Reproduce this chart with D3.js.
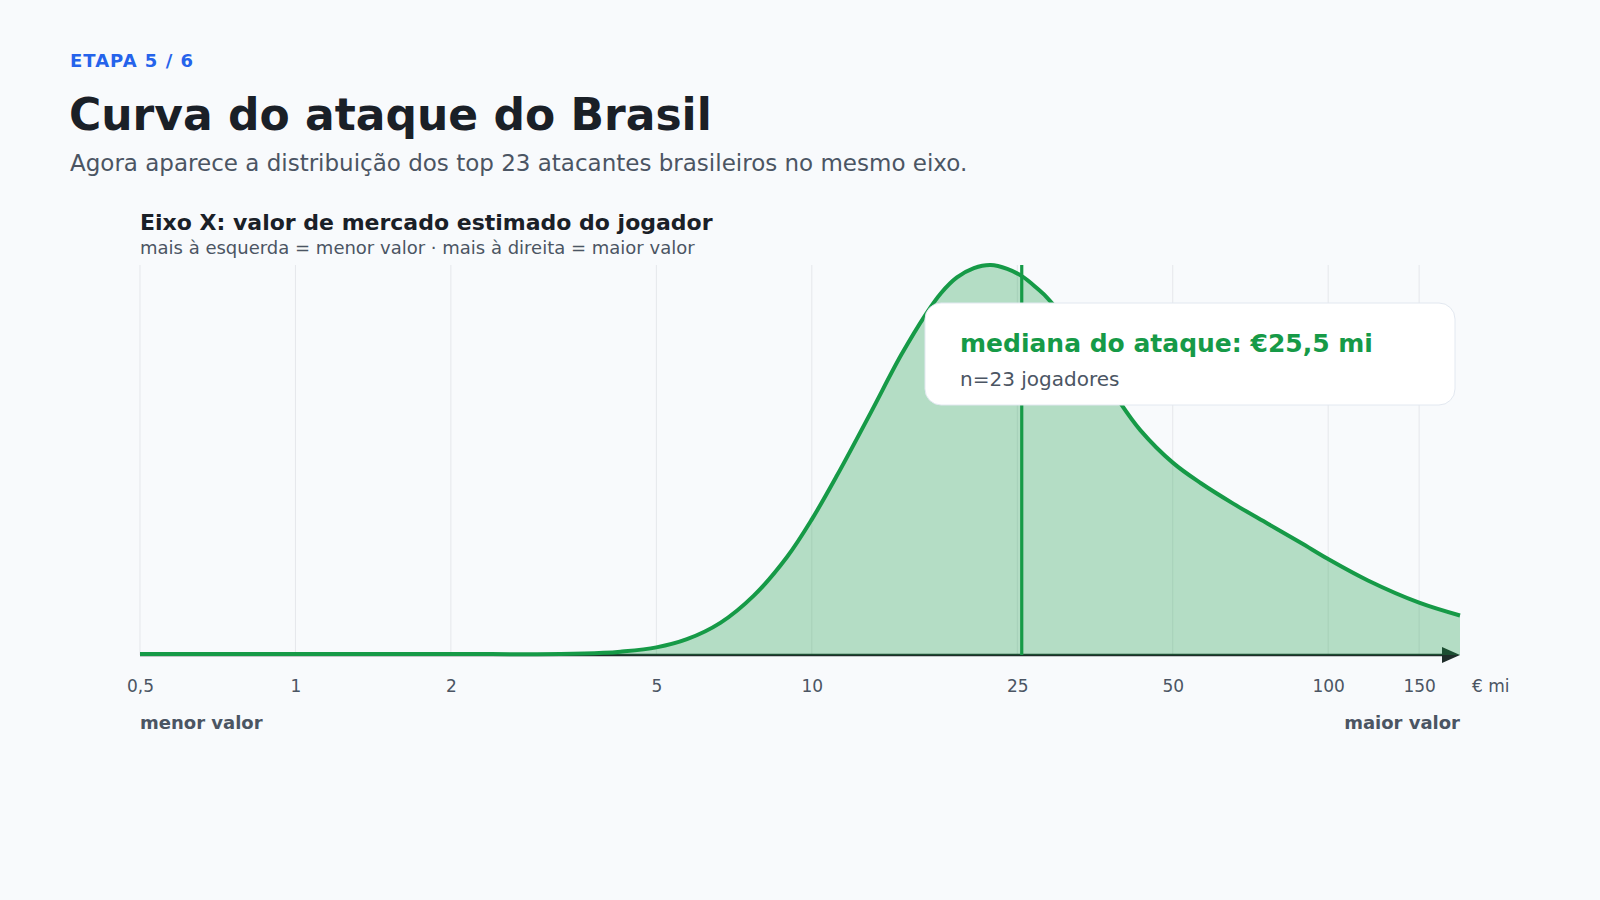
<!DOCTYPE html>
<meta charset="utf-8">
<style>
body { margin: 0; background: #f8fafc; }
svg { display: block; }
text { font-family: "DejaVu Sans", sans-serif; }
.grid line { stroke: #e5e7eb; stroke-width: 1; }
.eixo text { fill: #4b5563; }
</style>
<svg></svg>
<script src="https://d3js.org/d3.v7.min.js"></script>
<script>

// valores em € mi (eixo log) e densidade relativa
var valores   = [0.5, 1, 2, 3.26, 3.95, 4.26, 5, 5.73, 6.65, 7.72, 8.96, 10, 11.2, 13.0, 14.9, 16.6, 17.8, 19.1, 20.6, 22.2, 23.9, 25.6, 27.3, 28.6, 33.9, 39.6, 43.3, 50, 56.7, 65.6, 76.4, 88.5, 100, 119.4, 150, 180];
var densidade = [0, 0, 0, 0, 0.003, 0.006, 0.017, 0.038, 0.08, 0.15, 0.25, 0.346, 0.46, 0.62, 0.769, 0.872, 0.928, 0.968, 0.992, 1.0, 0.99, 0.97, 0.94, 0.915, 0.792, 0.645, 0.575, 0.492, 0.439, 0.386, 0.335, 0.286, 0.244, 0.189, 0.132, 0.099];

var ticks = [0.5, 1, 2, 5, 10, 25, 50, 100, 150];
var tickLabels = ["0,5", "1", "2", "5", "10", "25", "50", "100", "150"];

var mediana = 25.5;
var nJogadores = 23;

var verde = "#169a47";

var svg = d3.select("svg")
  .attr("width", 1600)
  .attr("height", 900);

var x = d3.scaleLog().domain([0.5, 180]).range([140, 1460]);
var y = d3.scaleLinear().domain([0, 1]).range([654, 265]);

var pontos = valores.map(function(v, i) { return { v: v, d: densidade[i] }; });

/*CABECALHO*/
svg.append("text")
  .attr("x", 70).attr("y", 67)
  .style("font-size", "18px").style("font-weight", "bold")
  .style("letter-spacing", "1px")
  .style("fill", "#2563eb")
  .text("ETAPA 5 / 6");

svg.append("text")
  .attr("x", 69).attr("y", 130)
  .style("font-size", "44px").style("font-weight", "bold")
  .style("fill", "#1a2027")
  .text("Curva do ataque do Brasil");

svg.append("text")
  .attr("x", 70).attr("y", 171)
  .style("font-size", "23px")
  .style("fill", "#4b5563")
  .text("Agora aparece a distribuição dos top 23 atacantes brasileiros no mesmo eixo.");

svg.append("text")
  .attr("x", 140).attr("y", 230)
  .style("font-size", "22px").style("font-weight", "bold")
  .style("fill", "#1a2027")
  .text("Eixo X: valor de mercado estimado do jogador");

svg.append("text")
  .attr("x", 140).attr("y", 254)
  .style("font-size", "18px")
  .style("fill", "#4b5563")
  .text("mais à esquerda = menor valor · mais à direita = maior valor");

/*GRADE*/
svg.append("g")
  .attr("class", "grid")
  .selectAll("line")
  .data(ticks)
  .enter().append("line")
  .attr("x1", function(d) { return x(d); })
  .attr("x2", function(d) { return x(d); })
  .attr("y1", y(1))
  .attr("y2", 655);

/*EIXO COM SETA*/
svg.append("line")
  .attr("x1", x.range()[0]).attr("x2", x.range()[1] - 4)
  .attr("y1", 655).attr("y2", 655)
  .style("stroke", "#1f2d2a").style("stroke-width", 2.5);

var xe = x.range()[1];
svg.append("path")
  .attr("d", "M" + (xe - 18) + ",647L" + xe + ",655L" + (xe - 18) + ",663Z")
  .style("fill", "#1f2d2a");

/*AREA DA DENSIDADE*/
var area = d3.area()
  .curve(d3.curveCatmullRom.alpha(0.5))
  .x(function(d) { return x(d.v); })
  .y0(655)
  .y1(function(d) { return y(d.d); });

var linha = d3.line()
  .curve(d3.curveCatmullRom.alpha(0.5))
  .x(function(d) { return x(d.v); })
  .y(function(d) { return y(d.d); });

svg.append("path")
  .datum(pontos)
  .attr("d", area)
  .style("fill", verde)
  .style("fill-opacity", 0.3);

svg.append("path")
  .datum(pontos)
  .attr("d", linha)
  .style("fill", "none")
  .style("stroke", verde)
  .style("stroke-width", 4);

/*MEDIANA*/
svg.append("line")
  .attr("x1", x(mediana)).attr("x2", x(mediana))
  .attr("y1", y(1)).attr("y2", 655)
  .style("stroke", verde).style("stroke-width", 3.2);

/*ROTULOS DO EIXO*/
var eixo = svg.append("g")
  .attr("class", "eixo")
  .attr("transform", "translate(0,655)")
  .call(d3.axisBottom(x).tickValues(ticks).tickSize(0)
    .tickFormat(function(d, i) { return tickLabels[i]; }));
eixo.select(".domain").remove();
eixo.selectAll("text")
  .attr("y", 37).attr("dy", 0)
  .style("font-family", "'DejaVu Sans', sans-serif")
  .style("font-size", "17px");

svg.append("text")
  .attr("x", 1472).attr("y", 692)
  .style("font-size", "17px").style("fill", "#4b5563")
  .text("€ mi");

svg.append("text")
  .attr("x", 140).attr("y", 729)
  .style("font-size", "18px").style("font-weight", "bold")
  .style("fill", "#4b5563")
  .text("menor valor");

svg.append("text")
  .attr("x", 1460).attr("y", 729)
  .attr("text-anchor", "end")
  .style("font-size", "18px").style("font-weight", "bold")
  .style("fill", "#4b5563")
  .text("maior valor");

/*CAIXA DA MEDIANA*/
var caixa = svg.append("g").attr("transform", "translate(925,303)");
caixa.append("rect")
  .attr("width", 530).attr("height", 102)
  .attr("rx", 16).attr("ry", 16)
  .style("fill", "#ffffff")
  .style("stroke", "#e2e8f0").style("stroke-width", 1);
caixa.append("text")
  .attr("x", 35).attr("y", 49)
  .style("font-size", "25px").style("font-weight", "bold")
  .style("fill", verde)
  .text("mediana do ataque: €" + String(mediana).replace(".", ",") + " mi");
caixa.append("text")
  .attr("x", 35).attr("y", 83)
  .style("font-size", "20px")
  .style("fill", "#4b5563")
  .text("n=" + nJogadores + " jogadores");

</script>
